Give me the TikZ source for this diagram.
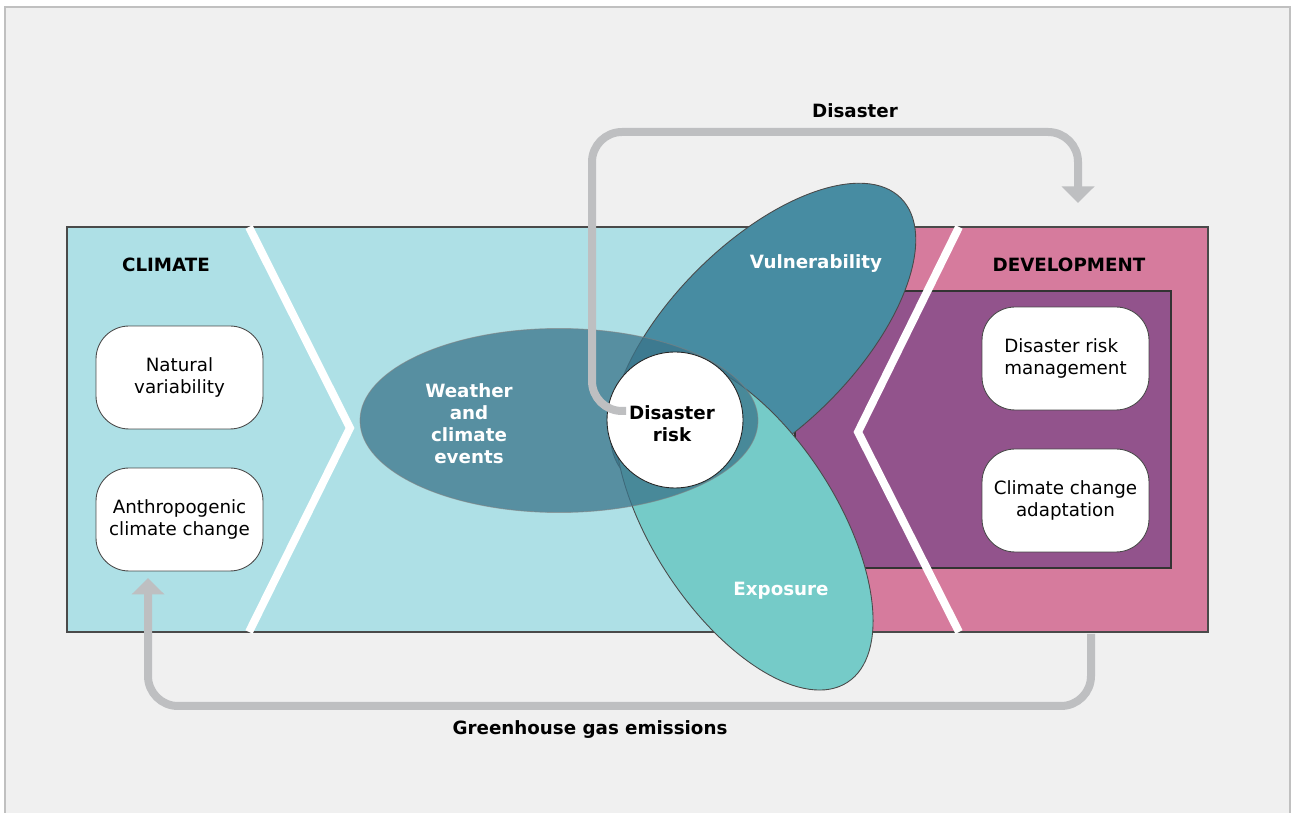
\documentclass[tikz,border=0pt]{standalone}
\usepackage{fontspec}
\setmainfont{DejaVu Sans}
\usepackage{tikz}
\usetikzlibrary{arrows.meta}
\usetikzlibrary{positioning}
\usetikzlibrary{shapes.geometric}

\definecolor{paper}{HTML}{F0F0F0}
\definecolor{framegray}{HTML}{C0C0C0}
\definecolor{climcyan}{HTML}{AEE0E6}
\definecolor{devpink}{HTML}{D67B9D}
\definecolor{devpurple}{HTML}{92538C}
\definecolor{vulncol}{HTML}{478CA2}
\definecolor{expocol}{HTML}{75CBC8}
\definecolor{weathcol}{RGB}{58,116,138}
\definecolor{arrowgray}{HTML}{BEBFC1}
\definecolor{edgegray}{HTML}{4A4A4A}

\begin{document}
\begin{tikzpicture}
	[x=0.02cm,y=-0.02cm,
	every node/.style={font=\fontsize{10.4pt}{12.5pt}\selectfont},
	lbl/.style={font=\fontsize{10.4pt}{12.5pt}\selectfont\bfseries,align=center,inner sep=0pt},
	box/.style={rectangle,rounded corners=0.66cm,minimum width=3.34cm,minimum height=2.06cm,fill=white,draw=edgegray,line width=0.5pt,align=center},
	blob/.style={ellipse,inner sep=0pt,draw=edgegray,line width=0.5pt},
	chevron/.style={white,line width=0.16cm},
	feedback/.style={arrowgray,line width=0.16cm,rounded corners=0.6cm,-{Triangle[length=0.33cm,width=0.64cm]}}]
	\useasboundingbox (0,0) rectangle (1292,813);
	% frame
	\fill[white] (0,0) rectangle (1292,813);
	\fill[paper] (5,7) rectangle (1290,813);
	\draw[framegray,line width=0.8pt] (5,813) -- (5,7) -- (1290,7) -- (1290,813);

	% panels
	\fill[climcyan] (67,227) rectangle (800,632);
	\fill[devpink] (800,227) rectangle (1208,632);
	\draw[edgegray,line width=0.6pt] (67,227) rectangle (1208,632);
	\draw[fill=devpurple,draw=black!80,line width=0.6pt] (795,291) rectangle (1171,568);
	\draw[chevron] (249,227) -- (350,428) -- (249,632);
	\draw[chevron] (959,227) -- (858,432) -- (959,632);

	\node[lbl] (climate) at (166,265) {CLIMATE};
	\node[lbl] (develop) at (1069,265) {DEVELOPMENT};
	\node[box] (natural) at (179.5,377.5) {Natural\\variability};
	\node[box] (anthro) at (179.5,519.5) {Anthropogenic\\climate change};
	\node[box,align=left] (drm) at (1065.5,358.5) {Disaster risk\\management};
	\node[box] (cca) at (1065.5,500.5) {Climate change\\adaptation};

	% hazard, vulnerability, exposure
	\node[blob,fill=vulncol,minimum width=7.8cm,minimum height=3.72cm,rotate=45] (vuln) at (763,336) {};
	\node[blob,fill=expocol,minimum width=7.6cm,minimum height=3.68cm,rotate=-57] (expo) at (744,523) {};
	\node[ellipse,inner sep=0pt,fill=weathcol,fill opacity=0.75,draw=gray,draw opacity=0.6,line width=0.5pt,minimum width=7.96cm,minimum height=3.68cm] (weather) at (559,420.5) {};
	\node[circle,minimum size=2.72cm,inner sep=0pt,fill=white,draw=black!85,line width=0.5pt] (risk) at (675,420) {};

	\node[lbl] (risklbl) at (672,424) {Disaster\\risk};
	\node[lbl,text=white] (weathlbl) at (469,424) {Weather\\and\\climate\\events};
	\node[lbl,text=white] (vulnlbl) at (816,264) {Vulnerability};
	\node[lbl,text=white] (expolbl) at (781,591) {Exposure};

	% feedback loops
	\coordinate (dtail) at (626,411);
	\coordinate (dtip) at (1078,203);
	\coordinate (gtail) at (1091,634);
	\coordinate (gtip) at (148,578);
	\draw[feedback] (dtail) -- (592,411) -- (592,132) -- (1078,132) -- (dtip);
	\draw[feedback] (gtail) -- (1091,706) -- (148,706) -- (gtip);
	\node[lbl] (disastr) at (855,111) {Disaster};
	\node[lbl] (ghg) at (590,730) {Greenhouse gas emissions};
\end{tikzpicture}
\end{document}
